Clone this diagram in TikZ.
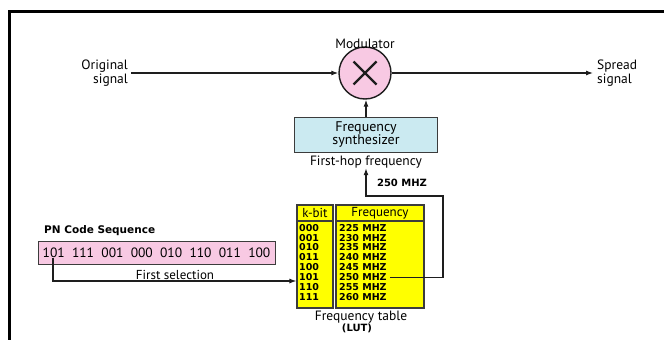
\documentclass[tikz,border=0pt]{standalone}
\usepackage{fontspec}
\setmainfont{PT Sans}
\newfontfamily\tabfont{DejaVu Sans}
\usetikzlibrary{arrows.meta,positioning,calc}
\definecolor{ssInk}{HTML}{1E1E1E}
\definecolor{ssGrey}{HTML}{3C3C3C}
\definecolor{ssPink}{HTML}{F8C9E3}
\definecolor{ssBlue}{HTML}{CBEAF1}
\definecolor{ssYellow}{HTML}{FFFF00}
\tikzset{
  txt/.style={font=\fontsize{13.5}{13.5}\selectfont, inner sep=0pt, align=center},
  bld/.style={font=\tabfont\bfseries\fontsize{9.5}{10}\selectfont, inner sep=0pt},
  arr/.style={-{Latex[length=7pt,width=5pt]}, line width=1.1pt, draw=ssInk},
  modc/.style={circle, draw=ssInk, line width=1.4pt, fill=ssPink, minimum size=52pt, inner sep=0pt},
  synthbox/.style={draw=ssGrey, line width=1pt, fill=ssBlue, minimum width=143pt, minimum height=35pt, inner sep=0pt, align=center, font=\fontsize{14}{12.5}\selectfont},
  cell/.style={draw=ssGrey, line width=1.2pt, fill=ssYellow, inner sep=0pt, font=\fontsize{13}{13}\selectfont},
  pnbox/.style={draw=ssGrey, line width=1pt, fill=ssPink, minimum width=237pt, minimum height=23pt, inner sep=0pt, font=\fontsize{13.5}{13.5}\selectfont},
}
\newcommand\pngap{\hspace{7.3pt}}

\begin{document}
\begin{tikzpicture}[x=1pt,y=-1pt]
    \useasboundingbox (0,0) rectangle (664,340);
    \draw[line width=3pt] (9,342) -- (9,11) -- (666,11);
    % modulator line
    \node[modc] (mod) at (365,73) {};
    \draw[line width=2.4pt, ssInk] ($(mod.center)+(-11.5,-11.5)$) -- ($(mod.center)+(11.5,11.5)$);
    \draw[line width=2.4pt, ssInk] ($(mod.center)+(-11.5,11.5)$) -- ($(mod.center)+(11.5,-11.5)$);
    \node[txt] (modl) at (365,44) {Modulator};
    \node[txt, align=right, anchor=east] (orig) at (128,73) {Original\\signal};
    \node[txt, align=left, anchor=west] (spread) at (597,73) {Spread\\signal};
    \draw[arr, shorten <=3pt] (orig.east) -- (mod.west);
    \draw[arr, shorten >=4pt] (mod.east) -- (spread.west);
    \node[synthbox] (synth) at (366,134.5) {Frequency\\synthesizer};
    \node[txt, below=3pt of synth] (hop) {First-hop frequency};
    \draw[arr] (synth.north) -- (synth.north |- mod.south);
    % frequency table
    \node[cell, minimum width=36pt, minimum height=16pt] (khead) at (315,213) {k-bit};
    \node[cell, minimum width=36pt, minimum height=87pt] (kbody) at (315,264.5) {};
    \node[cell, minimum width=88pt, minimum height=16pt] (fhead) at (380,213) {Frequency};
    \node[cell, minimum width=88pt, minimum height=87pt] (fbody) at (380,264.5) {};
    \foreach \kb/\fq [count=\i from 0] in {000/225,001/230,010/235,011/240,100/245,101/250,110/255,111/260}{
        \node[bld, anchor=west] (k\i) at (299,227.7+9.9*\i) {\kb};
        \node[bld, anchor=west] (f\i) at (339,227.7+9.9*\i) {\fq{} MHZ};
    }
    \node[txt] (lutl) at (361,317) {Frequency table};
    \node[bld, font=\tabfont\bfseries\fontsize{10}{11}\selectfont] (lut) at (357,328) {(LUT)};
    \coordinate (turn) at (443,196);
    \draw[arr, shorten <=3pt] (f5.east) -| (turn) -| (hop.south);
    \node[bld, font=\tabfont\bfseries\fontsize{10}{11}\selectfont] (mhz) at (402,183) {250 MHZ};
    % PN code
    \node[bld, font=\tabfont\bfseries\fontsize{10.5}{11}\selectfont, anchor=west] (pnl) at (44,231) {PN Code Sequence};
    \node[pnbox] (pn) at (156.5,252.5) {101\pngap 111\pngap 001\pngap 000\pngap 010\pngap 110\pngap 011\pngap 100};
    \coordinate (pick) at (53,258);
    \draw[arr] (pick) |- ([yshift=-16.5pt]kbody.west);
    \node[txt, font=\fontsize{13}{13}\selectfont] (sel) at (175,275) {First selection};
\end{tikzpicture}
\end{document}
